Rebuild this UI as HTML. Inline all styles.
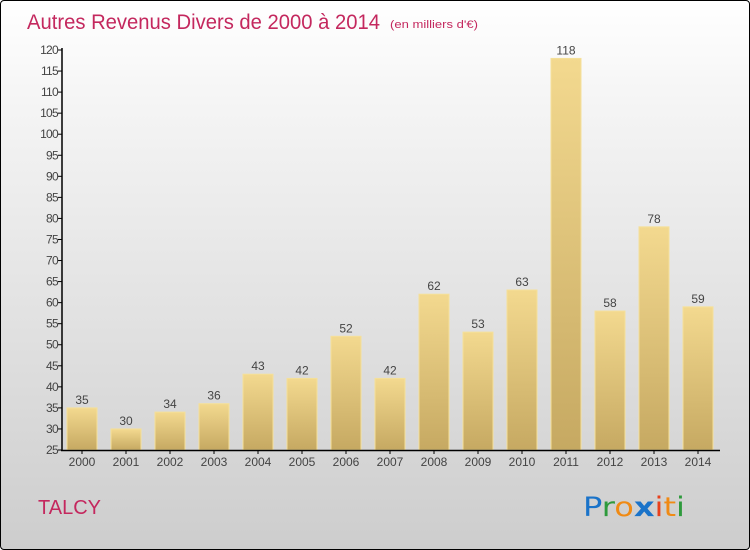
<!DOCTYPE html>
<html><head><meta charset="utf-8"><style>
body{margin:0;width:750px;height:550px;overflow:hidden;font-family:"Liberation Sans",sans-serif}
#c{position:absolute;left:0;top:0;width:748px;height:548px;border:1px solid #000;border-radius:4px;background:linear-gradient(#fff,#f4f4f4 20%,#cdcdcd)}
</style></head><body>
<div id="c">
<svg width="750" height="550" style="position:absolute;left:-1px;top:-1px" id="svg">
<defs><linearGradient id="bg" x1="0" y1="0" x2="0" y2="1"><stop offset="0" stop-color="#f3d98f"/><stop offset="1" stop-color="#c6a962"/></linearGradient></defs>
<text x="27" y="29" font-size="21" fill="#c4285e" textLength="353" lengthAdjust="spacingAndGlyphs">Autres Revenus Divers de 2000 à 2014</text>
<text x="390" y="28" font-size="11" fill="#c4285e" textLength="88" lengthAdjust="spacingAndGlyphs">(en milliers d'€)</text>
<text x="38" y="514" font-size="20" fill="#c4285e">TALCY</text>
<g font-size="27" font-family="DejaVu Sans, sans-serif">
<text x="583" y="516" textLength="102" lengthAdjust="spacingAndGlyphs"><tspan fill="#1a73c9">P</tspan><tspan fill="#2e9a3c">r</tspan><tspan fill="#f08a14">o</tspan><tspan fill="#1a73c9" font-weight="bold">x</tspan><tspan fill="#e8401c">i</tspan><tspan fill="#f08a14">t</tspan><tspan fill="#2e9a3c">i</tspan></text></g>
<g id="plot"></g>
</svg></div>
<script>
const years=["2000","2001","2002","2003","2004","2005","2006","2007","2008","2009","2010","2011","2012","2013","2014"];
const values=[35,30,34,36,43,42,52,42,62,53,63,118,58,78,59];
const yTicks=[25,30,35,40,45,50,55,60,65,70,75,80,85,90,95,100,105,110,115,120];
const NS="http://www.w3.org/2000/svg",g=document.getElementById('plot');
const y=v=>450-(v-25)*400/95, x=i=>82+i*44;
function mk(t,a,txt){const e=document.createElementNS(NS,t);for(const k in a)e.setAttribute(k,a[k]);if(txt!=null)e.textContent=txt;g.appendChild(e);return e;}
values.forEach((v,i)=>{
const b=mk('rect',{x:x(i)-15,y:y(v),width:30,height:450-y(v),fill:'url(#bg)',stroke:'#f5e09a','stroke-width':1});


const l=mk('text',{x:x(i),y:y(v)-4,'text-anchor':'middle','font-size':12,fill:'#444'},v);


const t=mk('text',{x:x(i),y:466,'text-anchor':'middle','font-size':12,fill:'#444'},years[i]);


mk('line',{x1:x(i),x2:x(i),y1:450,y2:454,stroke:'#000'});
});
yTicks.forEach(v=>{
mk('line',{x1:58,x2:62,y1:y(v),y2:y(v),stroke:'#000'});
const t=mk('text',{x:58,y:y(v)+4,'text-anchor':'end','font-size':12,fill:'#444','letter-spacing':'-0.7'},v);


});
const ya=mk('line',{x1:62,x2:62,y1:48,y2:451,stroke:'#000','stroke-width':1.5});


const xa=mk('line',{x1:61,x2:720,y1:450.5,y2:450.5,stroke:'#000','stroke-width':1.5});


</script>
</body></html>
